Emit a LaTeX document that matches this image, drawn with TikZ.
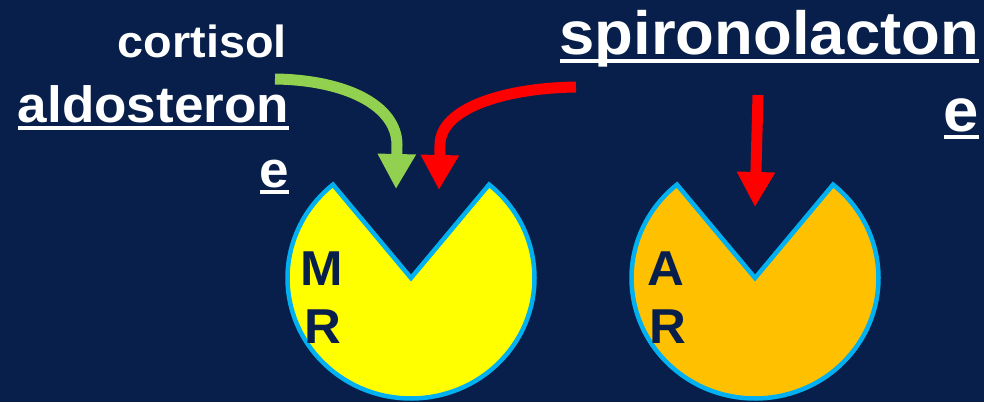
\documentclass[tikz,border=0pt]{standalone}
\usepackage{fontspec}
\setmainfont{Liberation Sans}[FakeStretch=1.04]
\usetikzlibrary{arrows.meta}
\definecolor{navy}{RGB}{7,31,74}
\definecolor{cyanline}{RGB}{0,176,240}
\definecolor{yfill}{RGB}{255,255,0}
\definecolor{ofill}{RGB}{255,192,0}
\definecolor{agreen}{RGB}{146,208,80}
\definecolor{ared}{RGB}{255,0,0}
\tikzset{
  lbl/.style={text=white, inner sep=0pt, outer sep=0pt},
  rl/.style={text=navy, inner sep=0pt, outer sep=0pt, anchor=base,
    font={\fontsize{49}{58}\selectfont\bfseries}},
  ul/.style={draw=white, line width=4pt},
  receptor/.style={draw=cyanline, line width=4.5pt, line join=miter},
  bigarrow/.style={line width=11pt, -{Triangle[width=36pt,length=35pt]}}
}
\begin{document}
\begin{tikzpicture}[x=1pt,y=-1pt]
\useasboundingbox (0,0) rectangle (984,402);
\fill[navy] (0,0) rectangle (984,402);

% receptors
\filldraw[receptor, fill=yfill] (411,278) -- ++(-50.8:123.5 and 120.5)
  arc[start angle=-50.8, end angle=230.8, x radius=123.5, y radius=120.5] -- cycle;
\filldraw[receptor, fill=ofill] (755,278) -- ++(-50.8:123.5 and 120.5)
  arc[start angle=-50.8, end angle=230.8, x radius=123.5, y radius=120.5] -- cycle;

\node[rl] (mrM) at (321.5,285) {M};
\node[rl] (mrR) at (322.5,343) {R};
\node[rl] (arA) at (666,285) {A};
\node[rl] (arR) at (667.5,343) {R};

% labels
\node[lbl, anchor=base east, font={\fontsize{45}{54}\selectfont\bfseries}] (cort) at (287,57) {cortisol};
\node[lbl, anchor=base east, font={\fontsize{51}{60}\selectfont\bfseries}] (ald) at (289,122) {aldosteron};
\node[lbl, anchor=base east, font={\fontsize{51}{60}\selectfont\bfseries}] (alde) at (289,187) {e};
\draw[ul] ([yshift=-5.7pt]ald.base west) -- ([yshift=-5.7pt]ald.base east);
\draw[ul] ([yshift=-5.2pt]alde.base west) -- ([yshift=-5.2pt]alde.base east);

\node[lbl, anchor=base east, font={\fontsize{61}{74}\selectfont\bfseries}] (spi) at (979,54) {spironolacton};
\node[lbl, anchor=base east, font={\fontsize{61}{74}\selectfont\bfseries}] (spie) at (979,131) {e};
\draw[ul] ([yshift=-6.8pt]spi.base west) -- ([yshift=-6.8pt]spi.base east);
\draw[ul] ([yshift=-6.2pt]spie.base west) -- ([yshift=-6.2pt]spie.base east);

% arrows
\coordinate (gS) at (275,79);
\coordinate (gT) at (396,189);
\coordinate (rS) at (576,87);
\coordinate (rT) at (439,190);
\coordinate (sS) at (758,95);
\coordinate (sT) at (755,207);
\draw[bigarrow, agreen] (gS) .. controls (345,80) and (397,105) .. (397,145) -- (gT);
\draw[bigarrow, ared] (rS) .. controls (505,88) and (440,108) .. (440,145) -- (rT);
\draw[bigarrow, ared] (sS) -- (sT);
\end{tikzpicture}
\end{document}
